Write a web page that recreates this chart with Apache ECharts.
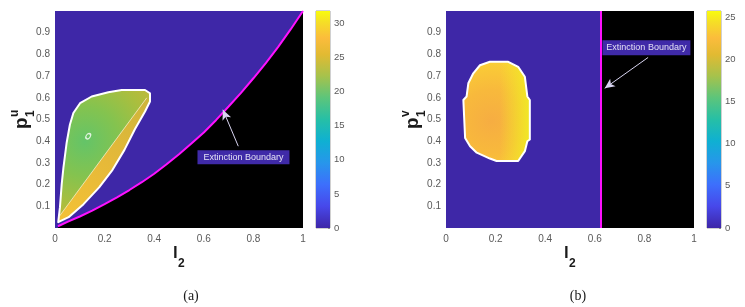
<!DOCTYPE html>
<html><head><meta charset="utf-8">
<script src="https://cdn.jsdelivr.net/npm/echarts@6/dist/echarts.min.js"></script>
<style>html,body{margin:0;padding:0;background:#fff}#c{width:745px;height:307px}</style>
</head><body><div id="c"></div>
<script>
// ---------- data ----------
const xTickStep = 0.2, yTickStep = 0.1, cbTickStep = 5;
// extinction boundary, panel (a)
const boundaryA = [[0.012,0.008],[0.05,0.028],[0.1,0.053],[0.15,0.08],[0.2,0.11],[0.25,0.141],[0.3,0.175],[0.35,0.211],[0.4,0.25],[0.45,0.294],[0.5,0.34],[0.55,0.389],[0.6,0.44],[0.65,0.498],[0.7,0.56],[0.75,0.623],[0.8,0.69],[0.85,0.76],[0.9,0.835],[0.95,0.915],[1,1.0]];
// extinction boundary, panel (b)
const boundaryBx = 0.625;
// coexistence region outline, panel (a)
const blobA = [[0.013,0.027],[0.02,0.096],[0.027,0.202],[0.034,0.278],[0.047,0.393],[0.06,0.476],[0.074,0.53],[0.101,0.575],[0.148,0.606],[0.215,0.626],[0.269,0.636],[0.363,0.636],[0.383,0.621],[0.383,0.583],[0.363,0.537],[0.322,0.455],[0.28,0.36],[0.232,0.268],[0.178,0.187],[0.115,0.11],[0.055,0.05]];
// high-value strip along lower-right edge, panel (a)
const stripA = [[0.015,0.05],[0.37,0.6],[0.383,0.583],[0.363,0.537],[0.322,0.455],[0.28,0.36],[0.232,0.268],[0.178,0.187],[0.115,0.11],[0.055,0.05],[0.013,0.027]];
const diagA = [[0.015,0.05],[0.37,0.6]];
const contourMarkA = [[0.134,0.423]];
// coexistence region outline, panel (b)
const blobB = [[0.177,0.766],[0.251,0.766],[0.291,0.743],[0.318,0.697],[0.328,0.606],[0.338,0.59],[0.338,0.408],[0.328,0.40],[0.318,0.354],[0.291,0.309],[0.204,0.309],[0.177,0.32],[0.124,0.347],[0.097,0.377],[0.077,0.415],[0.07,0.59],[0.083,0.606],[0.09,0.667],[0.11,0.713],[0.137,0.75]];
const cbarMaxA = 31.8, cbarMaxB = 25.7;
// annotations
const arrowA = [[0.739,0.377],[0.677,0.545]];
const labelA = [0.76,0.326];
const arrowB = [[0.815,0.786],[0.64,0.644]];
const labelB = [0.808,0.831];
const annText = 'Extinction Boundary';

// ---------- styling ----------
const BG = '#3e27a7', MAG = '#ff10ff';
const FONT = 'Liberation Sans';
const parula = [
  [0.0,'#3e26a8'],[0.1,'#4748ea'],[0.2,'#3d6ffc'],[0.3,'#2796eb'],[0.4,'#0fb0d2'],
  [0.5,'#26bfa6'],[0.6,'#5cc57b'],[0.7,'#a6c24c'],[0.8,'#e2ba32'],[0.875,'#fbbc3c'],
  [0.95,'#f5df26'],[1.0,'#f9fb0e']].map(s=>({offset:s[0],color:s[1]}));

function mainAxes(gi){
  return {
    x:{type:'value',gridIndex:gi,min:0,max:1,interval:xTickStep,
       axisLine:{show:false},axisTick:{show:false},splitLine:{show:false},
       axisLabel:{margin:6,fontSize:10,color:'#595959',fontFamily:FONT}},
    y:{type:'value',gridIndex:gi,min:0,max:1,interval:yTickStep,
       axisLine:{show:false},axisTick:{show:false},splitLine:{show:false},
       axisLabel:{margin:5,fontSize:10,color:'#595959',fontFamily:FONT,showMinLabel:false,showMaxLabel:false}}
  };
}
function cbAxes(gi,max){
  return {
    x:{type:'category',gridIndex:gi,data:['c'],show:false},
    y:{type:'value',gridIndex:gi,min:0,max:max,interval:cbTickStep,position:'right',
       axisLine:{show:false},splitLine:{show:false},
       axisTick:{show:true,inside:true,length:2,lineStyle:{color:'#777',width:0.8}},
       axisLabel:{margin:4,fontSize:9.5,color:'#595959',fontFamily:FONT,
         formatter:v=> (Math.abs(v/cbTickStep-Math.round(v/cbTickStep))<1e-6)? String(v):''}}
  };
}
const a0=mainAxes(0), a1=cbAxes(1,cbarMaxA), a2=mainAxes(2), a3=cbAxes(3,cbarMaxB);

function polyOnce(layers){
  return function(params, api){
    if(params.dataIndex!==0) return;
    return {type:'group',children:layers.map(L=>({
      type:'polygon',
      shape:{points:L.pts.map(p=>api.coord(p))},
      style:{fill:L.fill||'none',stroke:L.stroke||null,lineWidth:L.lw||0,lineJoin:'round'}
    }))};
  };
}

const chart = echarts.init(document.getElementById('c'),null,{renderer:'canvas'});
const annLabel = {show:true,formatter:annText,color:'#e4e1f5',fontSize:9,fontFamily:FONT,position:'inside'};
const T = (text,x,y,font,al,va)=>({type:'text',x:x,y:y,style:{text:text,font:font,fill:'#1a1a1a',
  textAlign:al||'left',textVerticalAlign:va||'bottom',align:al||'left',verticalAlign:va||'bottom'}});
function yName(gx,gy,sup){
  return {type:'group',x:gx,y:gy,rotation:Math.PI/2,children:[
    T('p',0,0,'bold 19px '+FONT),
    T('1',12,6,'bold 12px '+FONT),
    T(sup,12,-10,'bold 12px '+FONT)
  ]};
}

chart.setOption({
  animation:false,
  backgroundColor:'#fff',
  grid:[
    {left:55,top:11,width:248,height:217,show:true,backgroundColor:BG,borderWidth:0},
    {left:316,top:11,width:14,height:217,show:true,backgroundColor:'transparent',borderColor:'#8a8a8a',borderWidth:0.8},
    {left:446,top:11,width:248,height:217,show:true,backgroundColor:BG,borderWidth:0},
    {left:707,top:11,width:14,height:217,show:true,backgroundColor:'transparent',borderColor:'#8a8a8a',borderWidth:0.8}
  ],
  xAxis:[a0.x,a1.x,a2.x,a3.x],
  yAxis:[a0.y,a1.y,a2.y,a3.y],
  series:[
    // panel (a) extinct region + boundary
    {type:'line',xAxisIndex:0,yAxisIndex:0,data:boundaryA,showSymbol:false,
     lineStyle:{color:MAG,width:2},areaStyle:{color:'#000',opacity:1},z:2,
     markLine:{silent:true,symbol:['none','arrow'],symbolSize:[7,10],label:{show:false},
       lineStyle:{color:'#d8d4f0',width:1,type:'solid'},
       data:[[{coord:arrowA[0]},{coord:arrowA[1]}]]},
     markPoint:{silent:true,symbol:'rect',symbolSize:[92,14],itemStyle:{color:'#3f2aa8'},
       label:annLabel,data:[{coord:labelA}]}},
    // panel (a) coexistence region
    {type:'custom',xAxisIndex:0,yAxisIndex:0,data:[[0,0]],z:3,
     renderItem:polyOnce([
       {pts:blobA,fill:{type:'radial',x:0.29,y:0.39,r:0.95,global:false,colorStops:[
         {offset:0,color:'#64c468'},{offset:0.4,color:'#84c34f'},{offset:0.75,color:'#abbe3e'},{offset:1,color:'#c4b73a'}]}},
       {pts:stripA,fill:{type:'linear',x:1,y:0,x2:0,y2:1,global:false,colorStops:[
         {offset:0,color:'#cdb53b'},{offset:0.5,color:'#e6b939'},{offset:1,color:'#f4c236'}]}},
       {pts:blobA,stroke:'#ffffff',lw:2}
     ])},
    {type:'line',xAxisIndex:0,yAxisIndex:0,data:diagA,showSymbol:false,z:4,
     lineStyle:{color:'rgba(255,245,215,0.7)',width:1}},
    {type:'scatter',xAxisIndex:0,yAxisIndex:0,data:contourMarkA,symbol:'circle',symbolSize:[4,6],symbolRotate:-35,z:5,
     itemStyle:{color:'rgba(0,0,0,0)',borderColor:'#fff',borderWidth:1.3}},
    // colorbar (a)
    {type:'bar',xAxisIndex:1,yAxisIndex:1,data:[cbarMaxA],barWidth:'100%',
     itemStyle:{color:new echarts.graphic.LinearGradient(0,1,0,0,parula)}},
    // panel (b) extinct region + boundary
    {type:'line',xAxisIndex:2,yAxisIndex:2,data:[[boundaryBx,1],[1,1]],showSymbol:false,
     lineStyle:{width:0},areaStyle:{color:'#000',opacity:1},z:2},
    {type:'line',xAxisIndex:2,yAxisIndex:2,data:[[boundaryBx,0],[boundaryBx,1]],showSymbol:false,
     lineStyle:{color:MAG,width:2},z:3,
     markLine:{silent:true,symbol:['none','arrow'],symbolSize:[7,10],label:{show:false},
       lineStyle:{color:'#d8d4f0',width:1,type:'solid'},
       data:[[{coord:arrowB[0]},{coord:arrowB[1]}]]},
     markPoint:{silent:true,symbol:'rect',symbolSize:[88,15],itemStyle:{color:'#3f2aa8'},
       label:annLabel,data:[{coord:labelB}]}},
    // panel (b) coexistence region
    {type:'custom',xAxisIndex:2,yAxisIndex:2,data:[[0,0]],z:3,
     renderItem:polyOnce([
       {pts:blobB,fill:{type:'radial',x:0.42,y:0.6,r:0.95,global:false,colorStops:[
         {offset:0,color:'#f6ad42'},{offset:0.5,color:'#f8b93c'},{offset:1,color:'#fad035'}]}},
       {pts:blobB,fill:{type:'linear',x:0,y:0,x2:1,y2:0,global:false,colorStops:[
         {offset:0,color:'rgba(242,232,40,0)'},{offset:0.55,color:'rgba(242,232,40,0)'},{offset:1,color:'rgba(240,234,36,0.95)'}]}},
       {pts:blobB,stroke:'#ffffff',lw:2}
     ])},
    // colorbar (b)
    {type:'bar',xAxisIndex:3,yAxisIndex:3,data:[cbarMaxB],barWidth:'100%',
     itemStyle:{color:new echarts.graphic.LinearGradient(0,1,0,0,parula)}}
  ],
  graphic:[
    yName(31,129,'u'),
    yName(422,129,'v'),
    T('l',173,262,'bold 17px '+FONT),
    T('2',178,270,'bold 12px '+FONT),
    T('l',564,262,'bold 17px '+FONT),
    T('2',569,270,'bold 12px '+FONT),
    T('(a)',191,296,'14px Liberation Serif','center','middle'),
    T('(b)',578,296,'14px Liberation Serif','center','middle')
  ]
});
</script></body></html>
